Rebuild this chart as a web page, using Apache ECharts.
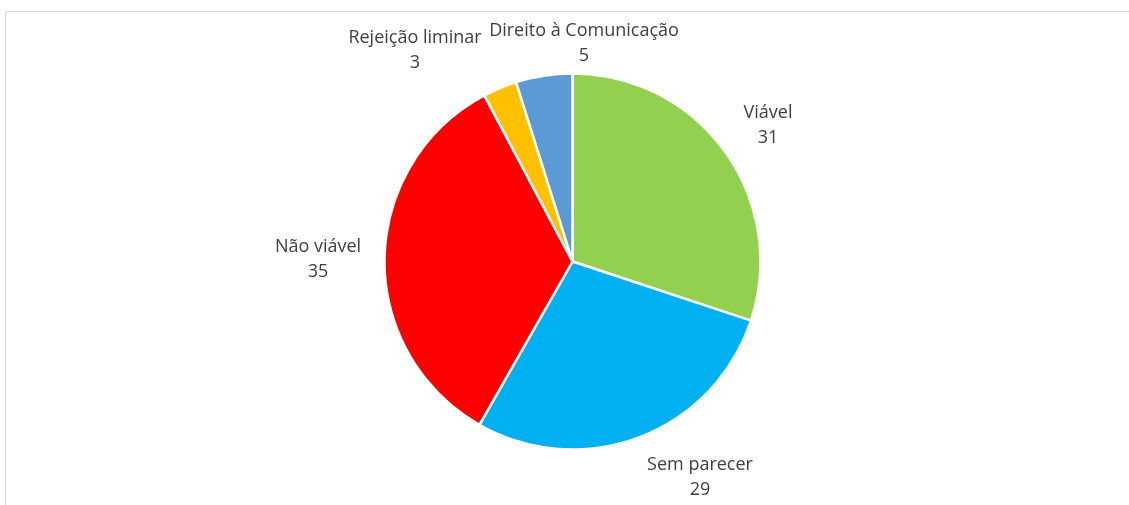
<!DOCTYPE html>
<html>
<head>
<meta charset="utf-8">
<script src="https://cdn.jsdelivr.net/npm/echarts@6/dist/echarts.min.js"></script>
<style>
  html, body { margin: 0; padding: 0; background: #fff; }
  #chart { width: 1129px; height: 505px; }
</style>
</head>
<body>
<div id="chart"></div>
<script>
// categorias e valores
const categorias = ['Viável', 'Sem parecer', 'Não viável', 'Rejeição liminar', 'Direito à Comunicação']
const valores = [31, 29, 35, 3, 5]
const cores = ['#92D050', '#00B0F0', '#FF0000', '#FFC000', '#5B9BD5']

// posição dos rótulos (estilo "melhor ajuste" do Excel)
const posRotulos = [[768, 125], [700, 477], [318, 259], [415, 50], [584, 43]]

const chart = echarts.init(document.getElementById('chart'))

chart.setOption({
  animation: false,
  graphic: [{
    type: 'rect',
    shape: {x: 5.5, y: 11.5, width: 1200, height: 600},
    style: {fill: 'none', stroke: '#d9d9d9', lineWidth: 1}
  }],
  series: [{
    type: 'pie',
    center: [572.5, 261.5],
    radius: 188,
    startAngle: 90,
    clockwise: true,
    itemStyle: {borderColor: '#fff', borderWidth: 2.5},
    label: {
      show: true,
      position: 'outside',
      formatter: '{b}\n{c}',
      fontFamily: 'Open Sans',
      fontSize: 18,
      lineHeight: 25,
      color: '#404040',
      align: 'center'
    },
    labelLine: {show: false},
    labelLayout: params => ({
      x: posRotulos[params.dataIndex][0],
      y: posRotulos[params.dataIndex][1],
      align: 'center',
      verticalAlign: 'middle'
    }),
    emphasis: {disabled: true},
    data: categorias.map((nome, i) => ({
      name: nome,
      value: valores[i],
      itemStyle: {color: cores[i]}
    }))
  }]
})
</script>
</body>
</html>
